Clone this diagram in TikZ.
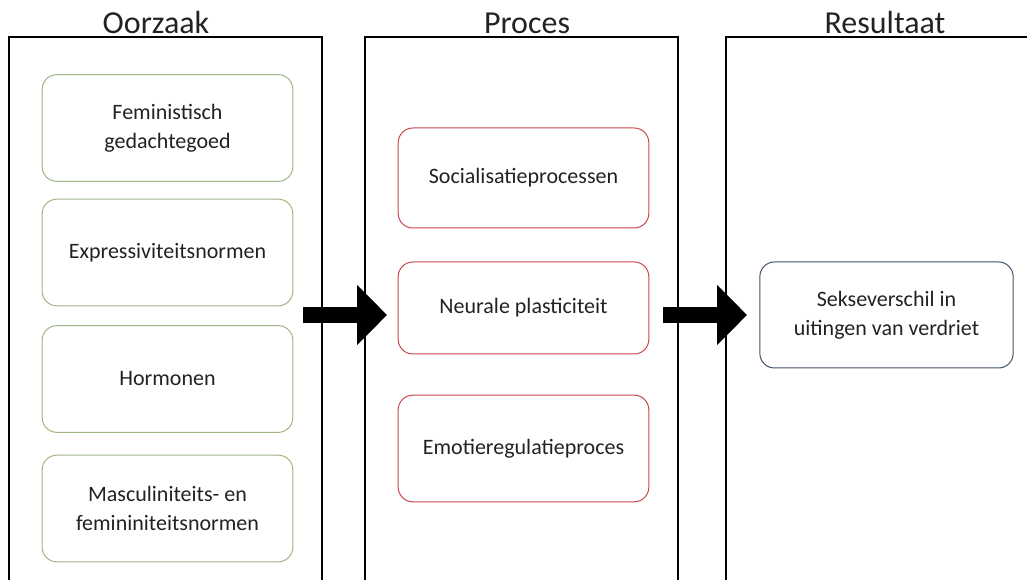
\documentclass[tikz,border=0pt]{standalone}
\usepackage{fontspec}
\setmainfont{Carlito}
\usetikzlibrary{arrows.meta}
\definecolor{boxgreen}{RGB}{158,182,132}
\definecolor{boxred}{RGB}{200,70,78}
\definecolor{boxblue}{RGB}{66,82,104}
\definecolor{txtgrey}{RGB}{34,34,34}
\tikzset{
	panelline/.style={black,line width=0.9pt},
	paneltitle/.style={anchor=base,inner sep=0pt,font=\fontsize{24}{28}\selectfont,text=txtgrey},
	itembox/.style={draw,rounded corners=11pt,line width=0.75pt,minimum width=188pt,align=center,text=txtgrey,font=\fontsize{16.5}{21.8}\selectfont},
	causebox/.style={itembox,draw=boxgreen,minimum height=80pt},
	procbox/.style={itembox,draw=boxred},
	resultbox/.style={itembox,draw=boxblue,minimum width=190pt,minimum height=79.5pt},
	bigarrow/.style={line width=12pt,-{Triangle[length=22.5pt,width=44pt]}}
}
\begin{document}
\begin{tikzpicture}[x=0.75pt,y=-0.75pt]
		\useasboundingbox (0,0) rectangle (1027,580);
		% Three open panels
		\draw[panelline] (9,580) -- (9,37) -- (322,37) -- (322,580);
		\draw[panelline] (365,580) -- (365,37) -- (678,37) -- (678,580);
		\draw[panelline] (726,580) -- (726,37) -- (1027,37);
		\node[paneltitle] (tcause) at (156,34) {Oorzaak};
		\node[paneltitle] (tproc) at (527,34) {Proces};
		\node[paneltitle] (tres) at (885,34) {Resultaat};

		% Causes
		\node[causebox] (fem) at (167.5,128) {Feministisch\\gedachtegoed};
		\node[causebox] (expr) at (167.5,252.5) {Expressiviteitsnormen};
		\node[causebox] (horm) at (167.5,379) {Hormonen};
		\node[causebox] (masc) at (167.5,508.5) {Masculiniteits- en\\femininiteitsnormen};

		% Processes
		\node[procbox,minimum height=75pt] (soc) at (523.5,178) {Socialisatieprocessen};
		\node[procbox,minimum height=69pt] (neur) at (523.5,308) {Neurale plasticiteit};
		\node[procbox,minimum height=80pt] (emo) at (523.5,448.5) {Emotieregulatieproces};

		% Result
		\node[resultbox] (sekse) at (886.5,315) {Sekseverschil in\\uitingen van verdriet};

		% Block arrows between the panels
		\coordinate (a1s) at (303,315);
		\coordinate (a1e) at (387,315);
		\coordinate (a2s) at (663,315);
		\coordinate (a2e) at (747,315);
		\draw[bigarrow] (a1s) -- (a1e);
		\draw[bigarrow] (a2s) -- (a2e);
	\end{tikzpicture}
\end{document}
